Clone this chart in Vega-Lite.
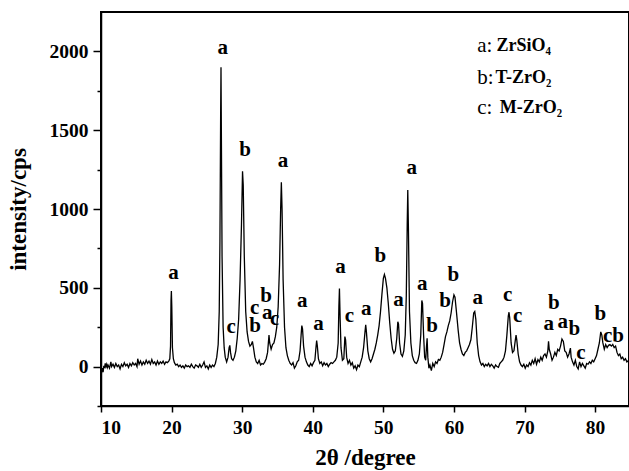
{
  "$schema": "https://vega.github.io/schema/vega-lite/v6.json",
  "width": 528,
  "height": 394,
  "autosize": {"type": "none"},
  "padding": {"left": 101, "top": 12, "right": 0, "bottom": 65},
  "background": "white",
  "config": {
    "font": "Liberation Serif",
    "view": {"stroke": "black", "strokeWidth": 2},
    "axis": {"grid": false, "domainColor": "black", "domainWidth": 1.5, "tickColor": "black", "tickWidth": 1.5, "labelColor": "black", "titleColor": "black", "labelFont": "Liberation Serif", "titleFont": "Liberation Serif", "labelFontWeight": "bold", "titleFontWeight": "bold", "labelFontSize": 19.5, "titleFontSize": 23}
  },
  "datasets": {
    "xrd": [
      {"t":10.0,"i":-60},{"t":10.1,"i":-30},{"t":10.2,"i":-10},{"t":10.3,"i":-35},{"t":10.4,"i":5},{"t":10.5,"i":-10},{"t":10.6,"i":20},{"t":10.7,"i":0},{"t":10.8,"i":15},{"t":10.9,"i":-5},{"t":11.0,"i":10},{"t":11.2,"i":-10},{"t":11.4,"i":30},{"t":11.5,"i":0},{"t":11.7,"i":15},{"t":11.9,"i":-5},{"t":12.1,"i":20},{"t":12.3,"i":0},{"t":12.5,"i":10},{"t":12.7,"i":-15},{"t":12.9,"i":15},{"t":13.1,"i":0},{"t":13.3,"i":25},{"t":13.5,"i":5},{"t":13.7,"i":15},{"t":13.9,"i":-5},{"t":14.1,"i":20},{"t":14.3,"i":5},{"t":14.5,"i":25},{"t":14.7,"i":10},{"t":14.9,"i":20},{"t":15.1,"i":0},{"t":15.2,"i":50},{"t":15.4,"i":15},{"t":15.6,"i":35},{"t":15.8,"i":10},{"t":16.0,"i":30},{"t":16.2,"i":15},{"t":16.4,"i":40},{"t":16.6,"i":20},{"t":16.8,"i":35},{"t":17.0,"i":15},{"t":17.2,"i":45},{"t":17.4,"i":20},{"t":17.6,"i":30},{"t":17.8,"i":10},{"t":18.0,"i":35},{"t":18.2,"i":15},{"t":18.4,"i":30},{"t":18.6,"i":20},{"t":18.8,"i":35},{"t":19.0,"i":15},{"t":19.2,"i":30},{"t":19.4,"i":25},{"t":19.6,"i":35},{"t":19.75,"i":50},{"t":19.85,"i":130},{"t":19.92,"i":420},{"t":19.97,"i":480},{"t":20.03,"i":380},{"t":20.12,"i":120},{"t":20.25,"i":50},{"t":20.4,"i":25},{"t":20.6,"i":10},{"t":20.8,"i":15},{"t":21.0,"i":0},{"t":21.2,"i":10},{"t":21.4,"i":-5},{"t":21.6,"i":5},{"t":21.8,"i":-10},{"t":22.0,"i":10},{"t":22.2,"i":0},{"t":22.4,"i":5},{"t":22.6,"i":-5},{"t":22.8,"i":15},{"t":23.0,"i":0},{"t":23.2,"i":-10},{"t":23.4,"i":10},{"t":23.6,"i":5},{"t":23.8,"i":-5},{"t":24.0,"i":15},{"t":24.2,"i":-5},{"t":24.4,"i":10},{"t":24.6,"i":30},{"t":24.8,"i":-5},{"t":25.0,"i":5},{"t":25.2,"i":-15},{"t":25.4,"i":10},{"t":25.6,"i":-5},{"t":25.8,"i":10},{"t":26.0,"i":0},{"t":26.2,"i":20},{"t":26.4,"i":60},{"t":26.6,"i":140},{"t":26.75,"i":350},{"t":26.85,"i":800},{"t":26.95,"i":1600},{"t":27.0,"i":1900},{"t":27.05,"i":1500},{"t":27.15,"i":700},{"t":27.3,"i":250},{"t":27.45,"i":120},{"t":27.6,"i":60},{"t":27.8,"i":30},{"t":28.0,"i":60},{"t":28.15,"i":120},{"t":28.25,"i":135},{"t":28.35,"i":90},{"t":28.5,"i":50},{"t":28.7,"i":40},{"t":28.9,"i":60},{"t":29.1,"i":100},{"t":29.3,"i":180},{"t":29.5,"i":300},{"t":29.7,"i":550},{"t":29.9,"i":900},{"t":30.05,"i":1240},{"t":30.15,"i":1150},{"t":30.3,"i":700},{"t":30.5,"i":350},{"t":30.7,"i":220},{"t":30.9,"i":160},{"t":31.1,"i":130},{"t":31.3,"i":140},{"t":31.45,"i":160},{"t":31.6,"i":120},{"t":31.8,"i":60},{"t":32.0,"i":30},{"t":32.2,"i":20},{"t":32.4,"i":40},{"t":32.6,"i":10},{"t":32.8,"i":20},{"t":33.0,"i":15},{"t":33.2,"i":30},{"t":33.4,"i":50},{"t":33.6,"i":90},{"t":33.8,"i":200},{"t":33.9,"i":150},{"t":34.1,"i":110},{"t":34.3,"i":140},{"t":34.5,"i":150},{"t":34.7,"i":190},{"t":34.9,"i":250},{"t":35.1,"i":380},{"t":35.3,"i":650},{"t":35.45,"i":1000},{"t":35.55,"i":1170},{"t":35.65,"i":1000},{"t":35.8,"i":550},{"t":36.0,"i":250},{"t":36.2,"i":120},{"t":36.4,"i":70},{"t":36.6,"i":40},{"t":36.8,"i":20},{"t":37.0,"i":10},{"t":37.2,"i":25},{"t":37.4,"i":-10},{"t":37.6,"i":5},{"t":37.8,"i":30},{"t":38.0,"i":40},{"t":38.2,"i":100},{"t":38.35,"i":200},{"t":38.45,"i":260},{"t":38.55,"i":240},{"t":38.7,"i":130},{"t":38.9,"i":60},{"t":39.1,"i":30},{"t":39.3,"i":10},{"t":39.5,"i":0},{"t":39.7,"i":20},{"t":39.9,"i":5},{"t":40.1,"i":25},{"t":40.3,"i":40},{"t":40.45,"i":120},{"t":40.55,"i":165},{"t":40.65,"i":130},{"t":40.8,"i":50},{"t":41.0,"i":20},{"t":41.2,"i":30},{"t":41.4,"i":5},{"t":41.6,"i":25},{"t":41.8,"i":10},{"t":42.0,"i":20},{"t":42.2,"i":0},{"t":42.4,"i":15},{"t":42.6,"i":25},{"t":42.8,"i":20},{"t":43.0,"i":30},{"t":43.2,"i":40},{"t":43.4,"i":60},{"t":43.6,"i":150},{"t":43.7,"i":380},{"t":43.78,"i":495},{"t":43.88,"i":300},{"t":44.0,"i":120},{"t":44.2,"i":40},{"t":44.4,"i":50},{"t":44.55,"i":190},{"t":44.65,"i":170},{"t":44.8,"i":60},{"t":45.0,"i":20},{"t":45.2,"i":40},{"t":45.4,"i":10},{"t":45.6,"i":25},{"t":45.8,"i":-10},{"t":46.0,"i":5},{"t":46.2,"i":-20},{"t":46.4,"i":10},{"t":46.6,"i":0},{"t":46.8,"i":30},{"t":47.0,"i":60},{"t":47.2,"i":120},{"t":47.4,"i":220},{"t":47.5,"i":265},{"t":47.6,"i":220},{"t":47.8,"i":100},{"t":48.0,"i":50},{"t":48.2,"i":30},{"t":48.4,"i":50},{"t":48.6,"i":80},{"t":48.8,"i":110},{"t":49.0,"i":150},{"t":49.2,"i":200},{"t":49.4,"i":260},{"t":49.6,"i":350},{"t":49.8,"i":460},{"t":50.0,"i":560},{"t":50.15,"i":585},{"t":50.3,"i":560},{"t":50.5,"i":500},{"t":50.7,"i":400},{"t":50.9,"i":280},{"t":51.1,"i":180},{"t":51.3,"i":110},{"t":51.5,"i":85},{"t":51.7,"i":100},{"t":51.9,"i":180},{"t":52.05,"i":285},{"t":52.15,"i":270},{"t":52.3,"i":150},{"t":52.5,"i":80},{"t":52.7,"i":65},{"t":52.9,"i":100},{"t":53.1,"i":200},{"t":53.25,"i":450},{"t":53.38,"i":900},{"t":53.46,"i":1120},{"t":53.56,"i":850},{"t":53.7,"i":350},{"t":53.9,"i":150},{"t":54.1,"i":70},{"t":54.3,"i":40},{"t":54.5,"i":25},{"t":54.7,"i":20},{"t":54.9,"i":40},{"t":55.1,"i":80},{"t":55.3,"i":200},{"t":55.45,"i":420},{"t":55.55,"i":400},{"t":55.7,"i":200},{"t":55.85,"i":60},{"t":56.0,"i":40},{"t":56.1,"i":120},{"t":56.2,"i":180},{"t":56.3,"i":60},{"t":56.45,"i":-10},{"t":56.6,"i":10},{"t":56.8,"i":-25},{"t":57.0,"i":20},{"t":57.2,"i":0},{"t":57.4,"i":30},{"t":57.6,"i":20},{"t":57.8,"i":45},{"t":58.0,"i":40},{"t":58.2,"i":60},{"t":58.4,"i":90},{"t":58.6,"i":140},{"t":58.8,"i":190},{"t":59.0,"i":220},{"t":59.2,"i":260},{"t":59.4,"i":290},{"t":59.6,"i":340},{"t":59.8,"i":410},{"t":60.0,"i":455},{"t":60.15,"i":440},{"t":60.35,"i":350},{"t":60.6,"i":230},{"t":60.8,"i":150},{"t":61.0,"i":110},{"t":61.2,"i":80},{"t":61.4,"i":70},{"t":61.6,"i":90},{"t":61.8,"i":100},{"t":62.0,"i":120},{"t":62.2,"i":140},{"t":62.4,"i":170},{"t":62.6,"i":250},{"t":62.8,"i":340},{"t":62.95,"i":350},{"t":63.1,"i":300},{"t":63.3,"i":150},{"t":63.5,"i":70},{"t":63.7,"i":30},{"t":63.9,"i":10},{"t":64.1,"i":20},{"t":64.3,"i":0},{"t":64.5,"i":15},{"t":64.7,"i":5},{"t":64.9,"i":20},{"t":65.1,"i":0},{"t":65.3,"i":15},{"t":65.5,"i":5},{"t":65.7,"i":-10},{"t":65.9,"i":10},{"t":66.1,"i":0},{"t":66.3,"i":-5},{"t":66.5,"i":20},{"t":66.7,"i":30},{"t":66.9,"i":40},{"t":67.1,"i":60},{"t":67.3,"i":100},{"t":67.5,"i":200},{"t":67.7,"i":320},{"t":67.8,"i":345},{"t":67.9,"i":310},{"t":68.1,"i":150},{"t":68.3,"i":90},{"t":68.5,"i":100},{"t":68.7,"i":170},{"t":68.8,"i":200},{"t":68.9,"i":170},{"t":69.1,"i":80},{"t":69.3,"i":30},{"t":69.5,"i":10},{"t":69.7,"i":0},{"t":69.9,"i":15},{"t":70.1,"i":-10},{"t":70.3,"i":10},{"t":70.5,"i":0},{"t":70.7,"i":25},{"t":70.9,"i":10},{"t":71.1,"i":40},{"t":71.3,"i":20},{"t":71.5,"i":50},{"t":71.7,"i":15},{"t":71.9,"i":45},{"t":72.1,"i":30},{"t":72.3,"i":60},{"t":72.5,"i":40},{"t":72.7,"i":70},{"t":72.9,"i":80},{"t":73.1,"i":60},{"t":73.3,"i":100},{"t":73.4,"i":160},{"t":73.5,"i":110},{"t":73.7,"i":80},{"t":73.9,"i":40},{"t":74.1,"i":60},{"t":74.3,"i":90},{"t":74.5,"i":70},{"t":74.7,"i":110},{"t":74.9,"i":100},{"t":75.1,"i":130},{"t":75.3,"i":175},{"t":75.5,"i":160},{"t":75.7,"i":100},{"t":75.9,"i":90},{"t":76.1,"i":60},{"t":76.3,"i":80},{"t":76.5,"i":117},{"t":76.6,"i":60},{"t":76.8,"i":30},{"t":77.0,"i":10},{"t":77.2,"i":40},{"t":77.4,"i":0},{"t":77.6,"i":-15},{"t":77.8,"i":30},{"t":78.0,"i":0},{"t":78.2,"i":20},{"t":78.4,"i":5},{"t":78.6,"i":-10},{"t":78.8,"i":20},{"t":79.0,"i":15},{"t":79.2,"i":30},{"t":79.4,"i":20},{"t":79.6,"i":40},{"t":79.8,"i":30},{"t":80.0,"i":50},{"t":80.2,"i":70},{"t":80.4,"i":110},{"t":80.6,"i":150},{"t":80.8,"i":220},{"t":80.95,"i":200},{"t":81.1,"i":150},{"t":81.3,"i":110},{"t":81.5,"i":140},{"t":81.7,"i":120},{"t":81.9,"i":135},{"t":82.1,"i":140},{"t":82.3,"i":130},{"t":82.5,"i":140},{"t":82.7,"i":120},{"t":82.9,"i":130},{"t":83.1,"i":90},{"t":83.3,"i":70},{"t":83.5,"i":80},{"t":83.7,"i":50},{"t":83.9,"i":60},{"t":84.1,"i":40},{"t":84.3,"i":50},{"t":84.5,"i":30},{"t":84.8,"i":40}
    ],
    "labels": [
      {"t":20.27,"i":596,"s":"a"},{"t":27.25,"i":2024,"s":"a"},{"t":30.42,"i":1375,"s":"b"},{"t":35.8,"i":1303,"s":"a"},
      {"t":28.44,"i":254,"s":"c"},{"t":31.84,"i":258,"s":"b"},{"t":31.78,"i":374,"s":"c"},{"t":33.4,"i":449,"s":"b"},{"t":33.54,"i":343,"s":"a"},{"t":34.6,"i":301,"s":"c"},
      {"t":38.5,"i":417,"s":"a"},{"t":40.8,"i":271,"s":"a"},{"t":43.92,"i":634,"s":"a"},{"t":45.2,"i":322,"s":"c"},{"t":47.56,"i":366,"s":"a"},{"t":49.59,"i":702,"s":"b"},{"t":52.14,"i":423,"s":"a"},{"t":54.02,"i":1259,"s":"a"},
      {"t":55.5,"i":525,"s":"a"},{"t":56.9,"i":260,"s":"b"},{"t":58.75,"i":419,"s":"b"},{"t":59.93,"i":582,"s":"b"},{"t":63.37,"i":438,"s":"a"},{"t":67.62,"i":455,"s":"c"},{"t":69.04,"i":322,"s":"c"},
      {"t":74.14,"i":402,"s":"b"},{"t":73.43,"i":271,"s":"a"},{"t":75.41,"i":286,"s":"a"},{"t":77.07,"i":239,"s":"b"},{"t":78.0,"i":89,"s":"c"},{"t":80.75,"i":332,"s":"b"},{"t":82.6,"i":195,"s":"cb"}
    ],
    "legendPrefix": [
      {"t":63.3,"i":2035,"s":"a:"},{"t":63.3,"i":1832,"s":"b:"},{"t":63.3,"i":1641,"s":"c:"}
    ],
    "legendFormula": [
      {"t":66.02,"i":2035,"s":"ZrSiO₄"},{"t":65.9,"i":1832,"s":"T-ZrO₂"},{"t":66.5,"i":1641,"s":"M-ZrO₂"}
    ],
    "frameTop": [{"t":10,"i":2250}]
  },
  "layer": [
    {
      "data": {"name": "xrd"},
      "mark": {"type": "line", "color": "black", "strokeWidth": 1.3, "clip": true},
      "encoding": {
        "x": {"field": "t", "type": "quantitative", "scale": {"domain": [10, 84.8], "nice": false, "zero": false},
              "axis": {"values": [10,20,30,40,50,60,70,80], "tickSize": 6, "labelPadding": 6, "title": "2θ /degree", "titlePadding": 10}},
        "y": {"field": "i", "type": "quantitative", "scale": {"domain": [-250, 2250], "nice": false, "zero": false},
              "axis": {"values": [-250,0,250,500,750,1000,1250,1500,1750,2000], "labelExpr": "datum.value % 500 == 0 && datum.value >= 0 ? datum.label : ''",
                       "tickSize": {"condition": {"test": "datum.value % 500 != 0", "value": 4}, "value": 8},
                       "labelPadding": 5, "title": "intensity/cps", "titlePadding": 19, "format": "d"}}
      }
    },
    {
      "data": {"name": "frameTop"},
      "mark": {"type": "rule", "color": "black", "strokeWidth": 2},
      "encoding": {"y": {"field": "i", "type": "quantitative"}}
    },
    {
      "data": {"name": "labels"},
      "mark": {"type": "text", "fontWeight": "bold", "fontSize": 21, "font": "Liberation Serif", "align": "center", "baseline": "middle", "color": "black"},
      "encoding": {"x": {"field": "t", "type": "quantitative"}, "y": {"field": "i", "type": "quantitative"}, "text": {"field": "s"}}
    },
    {
      "data": {"name": "legendPrefix"},
      "mark": {"type": "text", "fontSize": 21, "font": "Liberation Serif", "align": "left", "baseline": "middle", "color": "black"},
      "encoding": {"x": {"field": "t", "type": "quantitative"}, "y": {"field": "i", "type": "quantitative"}, "text": {"field": "s"}}
    },
    {
      "data": {"name": "legendFormula"},
      "mark": {"type": "text", "fontSize": 18, "fontWeight": "bold", "font": "Liberation Serif", "align": "left", "baseline": "middle", "color": "black"},
      "encoding": {"x": {"field": "t", "type": "quantitative"}, "y": {"field": "i", "type": "quantitative"}, "text": {"field": "s"}}
    }
  ]
}
